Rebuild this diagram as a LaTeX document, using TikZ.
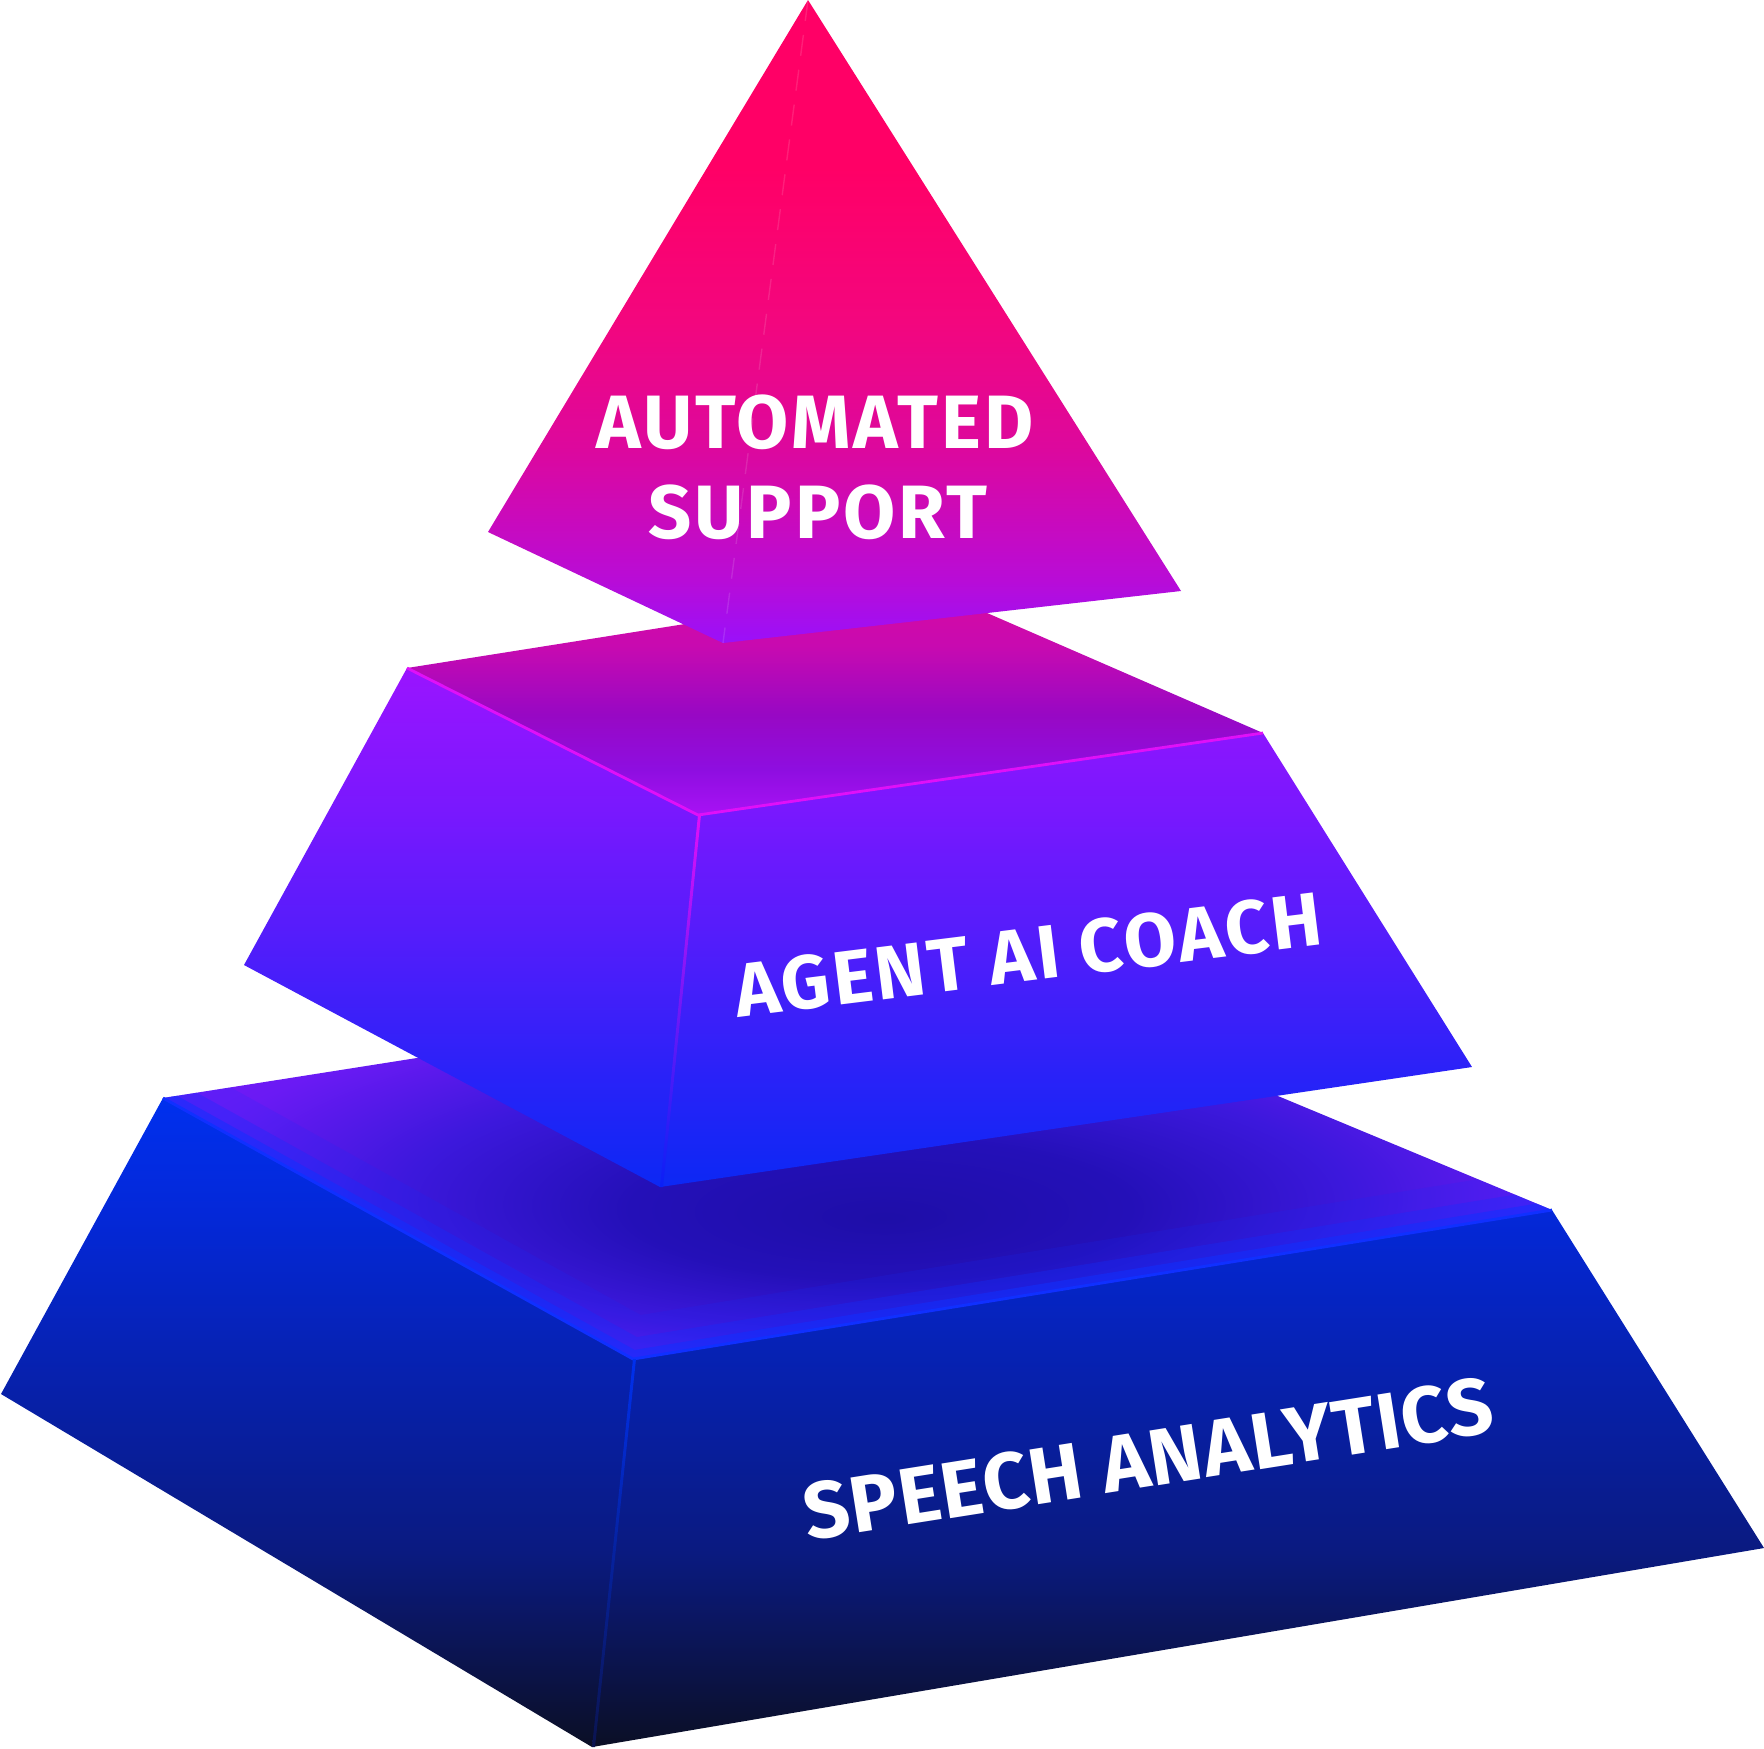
\documentclass[tikz,border=0pt]{standalone}
\usepackage{fontspec}
\setmainfont{Fira Sans}

\definecolor{tipA}{HTML}{FF0066}
\definecolor{tipB}{HTML}{F3067E}
\definecolor{tipC}{HTML}{DC089E}
\definecolor{tipD}{HTML}{B90CD6}
\definecolor{tipE}{HTML}{9A10FA}
\definecolor{midA}{HTML}{9A14FF}
\definecolor{midB}{HTML}{7818FE}
\definecolor{midC}{HTML}{4A1EFA}
\definecolor{midD}{HTML}{2A22F8}
\definecolor{midE}{HTML}{0C28F4}
\definecolor{capA}{HTML}{D80AA0}
\definecolor{capB}{HTML}{C80AB0}
\definecolor{capC}{HTML}{9808C4}
\definecolor{capD}{HTML}{8E0EE0}
\definecolor{capE}{HTML}{A812F5}
\definecolor{baseA}{HTML}{0030EE}
\definecolor{baseB}{HTML}{0428D8}
\definecolor{baseC}{HTML}{0720A8}
\definecolor{baseD}{HTML}{0A1A80}
\definecolor{baseE}{HTML}{0B1450}
\definecolor{baseF}{HTML}{0B0F25}
\definecolor{deckA}{HTML}{1E0EA8}
\definecolor{deckB}{HTML}{2410B8}
\definecolor{deckC}{HTML}{3C18DC}
\definecolor{deckD}{HTML}{6A1AF4}
\definecolor{deckE}{HTML}{7E1AF8}
\definecolor{rimMid}{HTML}{E010F8}
\definecolor{rimBase}{HTML}{1030FF}

% TikZ legt die Mitte 25bp--75bp auf die Bounding Box
\pgfdeclareverticalshading{tipshade}{100bp}{color(0bp)=(tipE); color(25bp)=(tipE);
  color(30bp)=(tipD); color(40bp)=(tipC); color(50bp)=(tipB); color(62bp)=(tipA); color(100bp)=(tipA)}
\pgfdeclareverticalshading{midshade}{100bp}{color(0bp)=(midE); color(25bp)=(midE);
  color(36bp)=(midD); color(46bp)=(midC); color(61bp)=(midB); color(75bp)=(midA); color(100bp)=(midA)}
\pgfdeclareverticalshading{capshade}{100bp}{color(0bp)=(capE); color(25bp)=(capE);
  color(35bp)=(capD); color(47bp)=(capC); color(62bp)=(capB); color(75bp)=(capA); color(100bp)=(capA)}
\pgfdeclareverticalshading{baseshade}{100bp}{color(0bp)=(baseF); color(25bp)=(baseF);
  color(32bp)=(baseE); color(40bp)=(baseD); color(52bp)=(baseC); color(66bp)=(baseB); color(75bp)=(baseA); color(100bp)=(baseA)}
\pgfdeclareradialshading{deckshade}{\pgfpoint{1bp}{-7bp}}{color(0bp)=(deckA);
  color(9bp)=(deckB); color(17bp)=(deckC); color(25bp)=(deckD); color(32bp)=(deckE); color(50bp)=(deckE)}

\begin{document}
\begin{tikzpicture}[x=0.01cm,y=-0.01cm,
    tiertext/.style={text=white,inner sep=0pt,
      font=\bfseries\fontsize{21.5}{26}\selectfont\addfontfeatures{LetterSpace=4}},
    rim/.style={line width=0.8pt,line join=round}]
  \useasboundingbox (0,0) rectangle (1764,1748);

  % 下段
  \coordinate (bBack) at (975,970);
  \coordinate (bL) at (163,1098);
  \coordinate (bF) at (633,1359);
  \coordinate (bR) at (1552,1210);
  \coordinate (bLL) at (1,1394);
  \coordinate (bFF) at (592,1747);
  \coordinate (bRR) at (1764,1548);

  \shade[shading=deckshade] (bL)--(bBack)--(bR)--(bF)--cycle;
  \begin{scope}
    \clip (bL)--(bBack)--(bR)--(bF)--cycle;
    \draw[rimBase,line width=24pt,opacity=0.15] (bL)--(bF)--(bR);
    \draw[rimBase,line width=12pt,opacity=0.3] (bL)--(bF)--(bR);
    \draw[rimBase,line width=5pt,opacity=0.5] (bL)--(bF)--(bR);
  \end{scope}
  \shade[shading=baseshade] (bL)--(bF)--(bR)--(bRR)--(bFF)--(bLL)--cycle;
  \draw[rim,rimBase] (bL)--(bF)--(bR);
  \shade[top color=baseA,bottom color=baseE] (633,1359)--(636,1359)--(595,1747)--(592,1747)--cycle;

  % 中段
  \coordinate (mBack) at (925,586);
  \coordinate (mL) at (407,668);
  \coordinate (mF) at (698,815);
  \coordinate (mR) at (1263,733);
  \coordinate (mLL) at (244,965);
  \coordinate (mFF) at (660,1187);
  \coordinate (mRR) at (1472,1067);

  \shade[shading=capshade] (mL)--(mBack)--(mR)--(mF)--cycle;
  \shade[shading=midshade] (mL)--(mF)--(mR)--(mRR)--(mFF)--(mLL)--cycle;
  \draw[rim,rimMid] (mL)--(mF)--(mR);
  \shade[top color=rimMid,bottom color=midE!80!blue] (698,815)--(701,815)--(663,1187)--(660,1187)--cycle;

  % 上段
  \coordinate (tTop) at (808,0);
  \coordinate (tL) at (488,532);
  \coordinate (tF) at (723,643);
  \coordinate (tR) at (1181,591);

  \shade[shading=tipshade] (tTop)--(tL)--(tF)--(tR)--cycle;
  \draw[white,opacity=0.12,line width=0.4pt,dash pattern=on 6pt off 4pt] (tTop)--(tF);

  % ラベル
  \node[tiertext] (auto) at (815,422) {AUTOMATED};
  \node[tiertext] (supp) at (818,512) {SUPPORT};
  \node[tiertext,rotate=7.1] (coach) at (1028,955) {AGENT AI COACH};
  \node[tiertext,rotate=9,font=\bfseries\fontsize{22.7}{27}\selectfont\addfontfeatures{LetterSpace=1.5}]
    (speech) at (1148,1459) {SPEECH ANALYTICS};
\end{tikzpicture}
\end{document}
